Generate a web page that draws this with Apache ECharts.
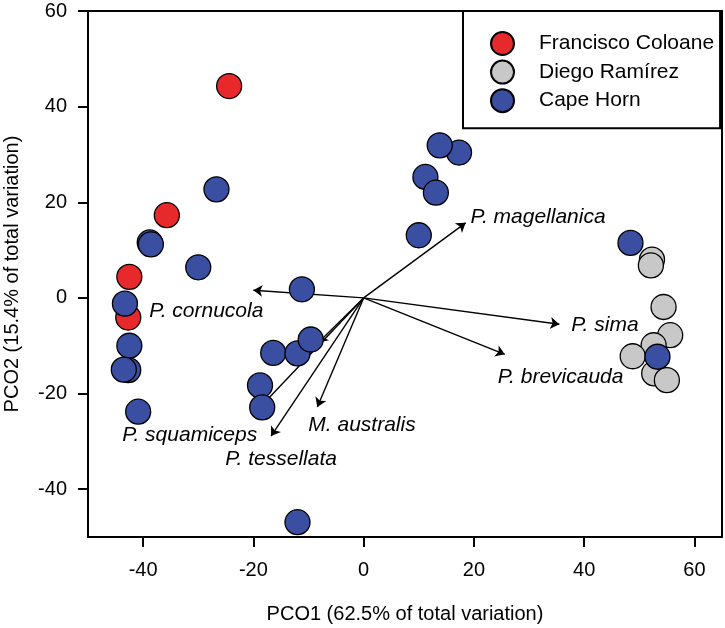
<!DOCTYPE html>
<html>
<head>
<meta charset="utf-8">
<script src="https://cdn.jsdelivr.net/npm/echarts@6/dist/echarts.min.js"></script>
<style>
html,body{margin:0;padding:0;background:#fff;}
#chart{width:725px;height:628px;}
</style>
</head>
<body>
<div id="chart"></div>
<script>
// ---- data ----
const seriesNames = ["Francisco Coloane", "Diego Ramírez", "Cape Horn"];
const franciscoColoane = [[-24.4,44.3],[-35.7,17.3],[-42.5,4.4],[-42.7,-4.1]];
const diegoRamirez = [[52.3,8.0],[52.1,6.8],[54.4,-1.9],[55.6,-7.8],[52.6,-9.9],[48.8,-12.2],[52.7,-15.8],[55.0,-17.2]];
const capeHorn = [[-26.7,22.7],[-38.8,11.6],[-38.6,11.2],[-30.0,6.4],[-43.3,-1.2],[-42.5,-10.0],[-42.7,-15.1],[-43.5,-15.0],[-40.9,-23.8],
  [-11.2,1.8],[-16.4,-11.5],[-12.0,-11.6],[-9.6,-8.7],[-18.8,-18.3],[-18.4,-22.9],[-12.0,-46.9],
  [53.3,-12.3],[48.4,11.5],[17.3,30.4],[13.8,31.9],[11.2,25.3],[13.1,22.0],[10.0,13.1]];
const vectorNames = ["P. cornucola","P. magellanica","P. sima","P. brevicauda","M. australis","P. tessellata","P. squamiceps",""];
const vectorX = [-20.0, 18.5, 35.5, 25.6, -8.4, -16.8, -18.4, -8.2];
const vectorY = [1.6, 15.7, -5.5, -11.8, -22.8, -28.9, -22.4, -9.3];
const xTicks = [-40,-20,0,20,40,60];
const yTicks = [-40,-20,0,20,40,60];
const xTitle = "PCO1 (62.5% of total variation)";
const yTitle = "PCO2 (15.4% of total variation)";

// ---- styles ----
const FONT = '"Liberation Sans", Arial, Helvetica, sans-serif';
const colors = ["#e8292b", "#c8c8c8", "#3a4ea2"];
// label placement relative to arrow tip (pixels)
const labelPlace = [
  {dx:-104, dy:21, align:'left'},
  {dx:5, dy:-6, align:'left'},
  {dx:12, dy:1, align:'left'},
  {dx:-7, dy:23, align:'left'},
  {dx:-9, dy:18, align:'left'},
  {dx:66, dy:23, align:'right'},
  {dx:-5, dy:30, align:'right'},
  {dx:0, dy:0, align:'left'}
];

const arrowData = vectorX.map((x,i)=>({coords:[[0,0],[x, vectorY[i]]]}));
const labelData = vectorX.map((x,i)=>({
  value:[x, vectorY[i]], name: vectorNames[i],
  label:{position:[labelPlace[i].dx, labelPlace[i].dy], align:labelPlace[i].align}
}));

function pointSeries(name, data, color){
  return {
    name, type:'scatter', data, symbol:'circle', symbolSize:25,
    itemStyle:{color, borderColor:'#000', borderWidth:1.3, opacity:1},
    emphasis:{disabled:true}, z:3
  };
}

const axisCommon = {
  axisLine:{show:true, onZero:false, lineStyle:{color:'#000', width:2}},
  axisTick:{show:true, inside:false, length:10, lineStyle:{color:'#000', width:2}},
  splitLine:{show:false},
  nameLocation:'middle',
  nameTextStyle:{fontFamily:FONT, fontSize:20, color:'#000'}
};

const option = {
  animation:false,
  backgroundColor:'#fff',
  grid:{left:88, right:3, top:11, bottom:91, show:true, borderColor:'#000', borderWidth:2,
        containLabel:false, outerBoundsMode:'none'},
  xAxis:Object.assign({}, axisCommon, {
    type:'value', min:-50, max:65, name:xTitle, nameGap:67,
    axisTick:Object.assign({}, axisCommon.axisTick, {customValues:xTicks}),
    axisLabel:{customValues:xTicks, margin:23, fontFamily:FONT, fontSize:20, color:'#000'}
  }),
  yAxis:Object.assign({}, axisCommon, {
    type:'value', min:-50, max:60, name:yTitle, nameGap:66,
    axisTick:Object.assign({}, axisCommon.axisTick, {customValues:yTicks}),
    axisLabel:{customValues:yTicks, margin:21, fontFamily:FONT, fontSize:20, color:'#000'}
  }),
  legend:{
    data:seriesNames, orient:'vertical', left:463, top:11,
    padding:[20,6,15,27], itemGap:3.6, itemWidth:23, itemHeight:23,
    backgroundColor:'#fff', borderColor:'#000', borderWidth:2,
    textStyle:{fontFamily:FONT, fontSize:21, color:'#000', lineHeight:23, padding:[0,0,0,20]},
    selectedMode:false, z:10
  },
  series:[
    {
      type:'lines', coordinateSystem:'cartesian2d', data:arrowData,
      symbol:['none','arrow'], symbolSize:9,
      lineStyle:{color:'#000', width:1.4, opacity:1, curveness:0},
      silent:true, z:2
    },
    {
      type:'scatter', data:labelData, symbolSize:0.1,
      itemStyle:{color:'rgba(0,0,0,0)'},
      label:{show:true, formatter:'{b}', verticalAlign:'middle', fontFamily:FONT, fontSize:21, fontStyle:'italic', color:'#000', opacity:1, textBorderWidth:0},
      silent:true, z:4
    },
    pointSeries(seriesNames[0], franciscoColoane, colors[0]),
    pointSeries(seriesNames[1], diegoRamirez, colors[1]),
    pointSeries(seriesNames[2], capeHorn, colors[2])
  ]
};

const chart = echarts.init(document.getElementById('chart'), null, {renderer:'canvas'});
chart.setOption(option);
</script>
</body>
</html>
